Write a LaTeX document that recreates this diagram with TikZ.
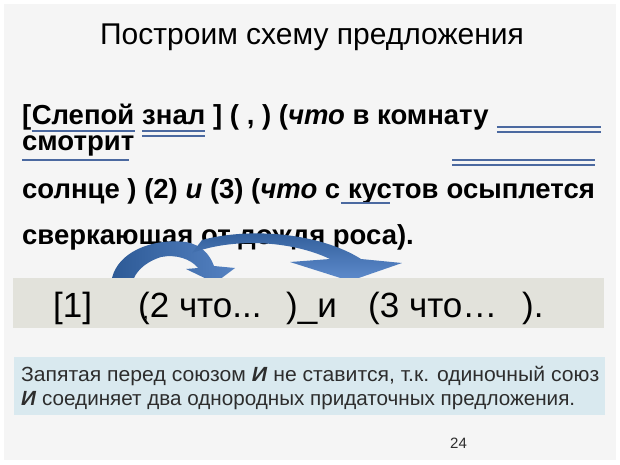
\documentclass[tikz,border=0pt]{standalone}
\usepackage{fontspec}
\setmainfont{Liberation Sans}
\usepackage{xcolor}
\usepackage{graphicx}
\usetikzlibrary{calc}
\definecolor{fongray}{RGB}{245,245,245}
\definecolor{ulblue}{RGB}{75,105,160}
\definecolor{bandgray}{RGB}{226,226,219}
\definecolor{boxblue}{RGB}{217,233,239}
\definecolor{textgray}{RGB}{45,45,45}
\definecolor{arrdark}{RGB}{45,90,150}
\definecolor{arrlight}{RGB}{95,140,205}
\begin{document}
\begin{tikzpicture}[x=1pt,y=-1pt,
    zag/.style={font=\fontsize{30}{34}\selectfont, inner sep=0pt, anchor=base},
    txt/.style={font=\fontsize{27.5}{32}\selectfont\bfseries, inner sep=0pt, anchor=base west},
    skh/.style={font=\fontsize{35}{40}\selectfont, inner sep=0pt, anchor=base west},
    prim/.style={font=\fontsize{20.5}{24}\selectfont, inner sep=0pt, anchor=base west, text=textgray},
    podch/.style={draw=ulblue, line width=1.4pt}]
        %RAMKA
        \useasboundingbox (0,0) rectangle (620,464);
        \fill[white] (0,0) rectangle (620,464);
        \fill[fongray] (4,4) rectangle (616,460);
        %ZAGOLOVOK
        \node[zag] (zagolovok) at (312,44) {Построим схему предложения};
        %PREDLOZHENIE
        \node[txt] (skobka) at (22,124) {[};
        \node[txt] (slepoj) at (skobka.base east) {Слепой};
        \node[txt] (znal) at ([xshift=7.5pt]slepoj.base east) {знал};
        \node[txt] (stroka1) at ([xshift=7.5pt]znal.base east) {] ( , ) (\textit{что} в комнату};
        \node[txt] (smotrit) at (22,150) {смотрит};
        \node[txt] (stroka3) at (22,198) {солнце ) (2) \textit{и} (3) (\textit{что} с};
        \node[txt] (kustov) at ([xshift=7.5pt]stroka3.base east) {кустов};
        \node[txt] (stroka3b) at ([xshift=7.5pt]kustov.base east) {осыплется};
        \node[txt] (stroka4) at (22,244) {сверкающая от дождя роса).};
        %PODCHERKIVANIE
        \draw[podch] ($(slepoj.base west)+(0,7)$) -- ($(slepoj.base east)+(0,7)$);
        \draw[podch] ($(znal.base west)+(0,7)$) -- ($(znal.base east)+(0,7)$);
        \draw[podch] ($(znal.base west)+(0,12)$) -- ($(znal.base east)+(0,12)$);
        \draw[podch] ($(stroka1.base east)+(8,3)$) -- +(104,0);
        \draw[podch] ($(stroka1.base east)+(8,8)$) -- +(104,0);
        \draw[podch] ($(smotrit.base west)+(0,10)$) -- ($(smotrit.base east)+(-5,10)$);
        \draw[podch] (452,160) -- (595,160);
        \draw[podch] (452,165) -- (595,165);
        \draw[podch] ($(kustov.base west)+(-7,5)$) -- ($(kustov.base west)+(42,5)$);
        %STRELKI
        \shade[left color=arrdark, right color=arrlight!80!arrdark]
            (112,278) .. controls (118,253) and (150,238) .. (186,242)
            .. controls (202,245) and (210,255) .. (214,266)
            -- (235,268) -- (215,283) -- (186,269) -- (198,268)
            .. controls (191,259) and (176,254) .. (161,257)
            .. controls (148,261) and (138,269) .. (134,278) -- cycle;
        \shade[top color=arrdark, bottom color=arrlight]
            (192,253) .. controls (232,238) and (290,240) .. (330,259)
            -- (290,262) -- (350,281) -- (402,263) -- (361,259)
            .. controls (320,233) and (250,227) .. (202,240) -- cycle;
        %SKHEMA
        \fill[bandgray] (13,278) rectangle (604,328);
        \node[skh] (pr1) at (53,317) {[1]};
        \node[skh] (pr2) at (138,317) {(2 что...};
        \node[skh] (zapyataya) at (143,318) {\fontsize{20}{20}\selectfont ,};
        \node[skh] (soyuz) at (286,317) {)\_и};
        \node[skh] (pr3) at (368,317) {(3 что…};
        \node[skh] (konec) at (522,317) {).};
        %PRIMECHANIE
        \fill[boxblue] (14,357) rectangle (605,415);
        \node[prim] (prim1) at (21,381) {\resizebox{578pt}{\height}{Запятая перед союзом \textbf{\textit{И}} не ставится, т.к. одиночный союз}};
        \node[prim] (prim2) at (21,405) {\resizebox{554pt}{\height}{\textbf{\textit{И}} соединяет два однородных придаточных предложения.}};
        %NOMER
        \node[font=\fontsize{15}{18}\selectfont, inner sep=0pt, anchor=base west, text=textgray] (nomer) at (450,448) {24};
\end{tikzpicture}
\end{document}
